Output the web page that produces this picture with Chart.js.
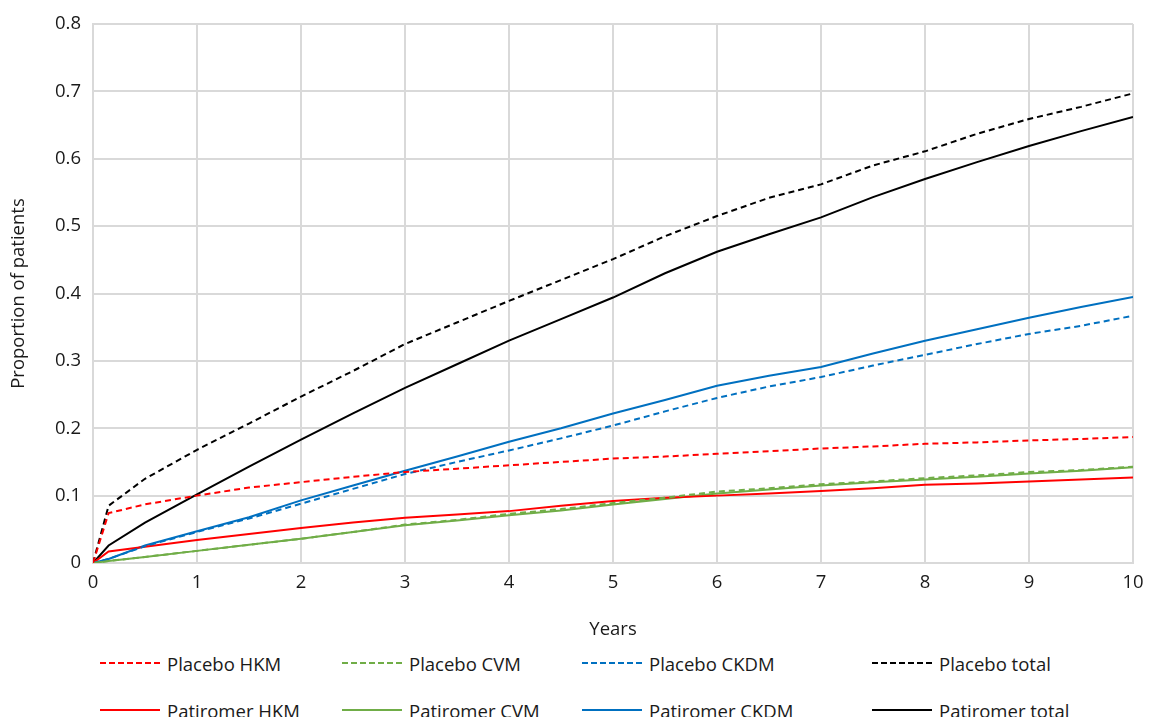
<!DOCTYPE html>
<html>
<head>
<meta charset="utf-8">
<script src="https://cdn.jsdelivr.net/npm/chart.js@4.4.1/dist/chart.umd.min.js"></script>
<style>
  html, body { margin: 0; padding: 0; background: #fff; }
  #wrap { position: relative; width: 1149px; height: 717px; font-family: "Open Sans", sans-serif; }
  #chart-box { position: absolute; left: 0; top: 0; width: 1149px; height: 645px; }
  .legend-item { position: absolute; display: flex; align-items: center; font-size: 18.5px; color: #1a1a1a; white-space: nowrap; }
  .legend-item svg { margin-right: 7px; }
</style>
</head>
<body>
<div id="wrap">
  <div id="chart-box"><canvas id="chart"></canvas></div>
  <div id="legend"></div>
</div>
<script>
// 연도 (x축)
const years = [0, 0.15, 0.5, 1, 1.5, 2, 2.5, 3, 3.5, 4, 4.5, 5, 5.5, 6, 6.5, 7, 7.5, 8, 8.5, 9, 9.5, 10]

// 시리즈 값
const placeboHKM = [0, 0.074, 0.087, 0.1, 0.112, 0.12, 0.128, 0.135, 0.14, 0.145, 0.15, 0.155, 0.158, 0.162, 0.166, 0.17, 0.173, 0.177, 0.179, 0.182, 0.184, 0.187]
const placeboCVM = [0, 0.003, 0.009, 0.018, 0.027, 0.036, 0.046, 0.057, 0.064, 0.073, 0.08, 0.089, 0.097, 0.106, 0.111, 0.117, 0.121, 0.126, 0.13, 0.135, 0.138, 0.143]
const placeboCKDM = [0, 0.006, 0.025, 0.046, 0.066, 0.088, 0.11, 0.132, 0.15, 0.167, 0.185, 0.204, 0.225, 0.245, 0.262, 0.276, 0.293, 0.309, 0.325, 0.34, 0.352, 0.367]
const placeboTotal = [0, 0.085, 0.125, 0.168, 0.207, 0.247, 0.285, 0.325, 0.357, 0.389, 0.42, 0.451, 0.485, 0.515, 0.542, 0.562, 0.59, 0.611, 0.637, 0.659, 0.677, 0.697]
const patiromerHKM = [0, 0.017, 0.024, 0.034, 0.043, 0.052, 0.06, 0.067, 0.072, 0.077, 0.085, 0.092, 0.097, 0.1, 0.103, 0.107, 0.111, 0.116, 0.118, 0.121, 0.124, 0.127]
const patiromerCVM = [0, 0.003, 0.009, 0.018, 0.027, 0.036, 0.046, 0.056, 0.063, 0.071, 0.078, 0.087, 0.095, 0.103, 0.109, 0.115, 0.12, 0.124, 0.128, 0.133, 0.137, 0.142]
const patiromerCKDM = [0, 0.006, 0.026, 0.047, 0.068, 0.093, 0.115, 0.137, 0.158, 0.18, 0.2, 0.222, 0.242, 0.263, 0.278, 0.291, 0.311, 0.33, 0.347, 0.364, 0.38, 0.395]
const patiromerTotal = [0, 0.026, 0.06, 0.102, 0.143, 0.183, 0.222, 0.26, 0.295, 0.33, 0.362, 0.394, 0.43, 0.462, 0.488, 0.513, 0.543, 0.57, 0.595, 0.619, 0.641, 0.662]

const seriesNames = ["Placebo HKM", "Placebo CVM", "Placebo CKDM", "Placebo total",
                     "Patiromer HKM", "Patiromer CVM", "Patiromer CKDM", "Patiromer total"]
const seriesValues = [placeboHKM, placeboCVM, placeboCKDM, placeboTotal,
                      patiromerHKM, patiromerCVM, patiromerCKDM, patiromerTotal]
const seriesColors = ["#ff0000", "#70ad47", "#0070c0", "#000000",
                      "#ff0000", "#70ad47", "#0070c0", "#000000"]
const dashed = [true, true, true, true, false, false, false, false]

const FONT = "'Open Sans', sans-serif"
const FONT_SIZE = 18.5

const datasets = seriesNames.map((name, i) => ({
    label: name,
    data: years.map((x, j) => ({ x: x, y: seriesValues[i][j] })),
    borderColor: seriesColors[i],
    backgroundColor: seriesColors[i],
    borderWidth: 2,
    borderDash: dashed[i] ? [6, 4] : [],
    pointRadius: 0,
    tension: 0,
    fill: false,
}))

const ctx = document.getElementById('chart').getContext('2d')
new Chart(ctx, {
    type: 'line',
    data: { datasets: datasets },
    options: {
        responsive: true,
        maintainAspectRatio: false,
        animation: false,
        layout: { padding: { top: 24, right: 16, left: 4, bottom: 0 } },
        plugins: {
            legend: { display: false },
            tooltip: { enabled: false },
        },
        scales: {
            x: {
                type: 'linear',
                min: 0, max: 10,
                ticks: { stepSize: 1, color: '#1a1a1a', font: { family: FONT, size: FONT_SIZE }, padding: 9 },
                grid: { color: '#d9d9d9', lineWidth: 2, drawTicks: false },
                border: { color: '#d9d9d9', width: 2 },
                title: { display: true, text: 'Years', color: '#1a1a1a', font: { family: FONT, size: FONT_SIZE }, padding: { top: 4 } },
                afterFit: (scale) => { scale.height = 82; scale.paddingRight = 0; scale.paddingLeft = 0 },
            },
            y: {
                min: 0, max: 0.8,
                ticks: { stepSize: 0.1, color: '#1a1a1a', font: { family: FONT, size: FONT_SIZE }, padding: 12,
                         callback: (v) => Math.round(v * 10) / 10 },
                grid: { color: '#d9d9d9', lineWidth: 2, drawTicks: false },
                border: { color: '#d9d9d9', width: 2 },
                title: { display: true, text: 'Proportion of patients', color: '#1a1a1a', font: { family: FONT, size: FONT_SIZE }, padding: { bottom: 2 } },
                afterFit: (scale) => { scale.width = 89; scale.paddingTop = 0; scale.paddingBottom = 0 },
            },
        },
    },
})

// 범례 (엑셀 스타일 2줄)
const legendX = [100, 342, 582, 872]
const legendY = [663, 710]
let legendHTML = ''
for (let i = 0; i < seriesNames.length; i++) {
    const col = i % 4
    const row = Math.floor(i / 4)
    legendHTML += `
        <div class="legend-item" style="left:${legendX[col]}px; top:${legendY[row] - 13}px; height:26px;">
            <svg width="60" height="6"><line x1="0" y1="3" x2="60" y2="3" stroke="${seriesColors[i]}" stroke-width="2" ${dashed[i] ? 'stroke-dasharray="6 3"' : ''}/></svg>
            <span>${seriesNames[i]}</span>
        </div>
    `
}
document.getElementById('legend').innerHTML = legendHTML
</script>
</body>
</html>
